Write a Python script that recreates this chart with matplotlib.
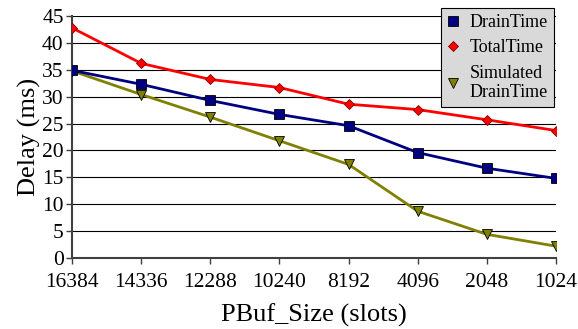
import matplotlib.pyplot as plt
import numpy as np

plt.rcParams['font.family'] = ['Liberation Serif', 'DejaVu Serif']

sizes = ['16384', '14336', '12288', '10240', '8192', '4096', '2048', '1024']
drain = [34.9, 32.3, 29.3, 26.7, 24.6, 19.6, 16.7, 14.8]
total = [42.8, 36.2, 33.2, 31.7, 28.6, 27.6, 25.7, 23.7]
simulated = [34.8, 30.4, 26.2, 21.8, 17.4, 8.7, 4.4, 2.2]

x = np.arange(len(sizes))

fig = plt.figure(figsize=(5.78, 3.29), dpi=100)
ax = fig.add_axes([72/578, 1 - 258/329, (556-72)/578, (258-16)/329])

ax.plot(x, total, color='#ff0000', lw=2, marker='D', ms=5, mfc='#ff0000', mec='#800000', mew=0.6, label='TotalTime', zorder=3)
ax.plot(x, drain, color='#000080', lw=2, marker='s', ms=6.5, mfc='#000080', mec='black', mew=0.6, label='DrainTime', zorder=4)
ax.plot(x, simulated, color='#808000', lw=2, marker='v', ms=6.5, mfc='#808000', mec='black', mew=0.6, label='Simulated\nDrainTime', zorder=3)

ax.set_xlim(0, 7)
ax.set_ylim(0, 45)
ax.set_yticks(range(0, 46, 5))
ax.set_xticks(x)
ax.set_xticklabels(sizes)
ax.yaxis.grid(True, color='black', lw=0.8)
ax.set_axisbelow(True)
for s in ['top', 'right']:
    ax.spines[s].set_visible(False)
ax.spines['left'].set_color('#404040')
ax.spines['left'].set_linewidth(1.5)
ax.spines['bottom'].set_color('#404040')
ax.spines['bottom'].set_linewidth(1.5)
ax.tick_params(labelsize=15.5, length=4, width=1, color='#404040')
ax.tick_params(axis='x', pad=7)
ax.tick_params(axis='y', pad=2)
ax.set_xlabel('PBuf_Size (slots)', fontsize=19, labelpad=8)
ax.set_ylabel('Delay (ms)', fontsize=19, labelpad=1)

h, l = ax.get_legend_handles_labels()
order = [1, 0, 2]
leg = ax.legend([h[i] for i in order], [l[i] for i in order], loc='upper right',
                bbox_to_anchor=(554/578, 1 - 8/329), bbox_transform=fig.transFigure,
                fontsize=13, frameon=True, fancybox=False,
                facecolor='#d9d9d9', edgecolor='black', framealpha=1,
                handlelength=0.6, handletextpad=0.6, borderpad=0.35, labelspacing=0.45,
                borderaxespad=0)
leg.get_frame().set_linewidth(0.8)
for lh in leg.get_lines():
    lh.set_linestyle('none')

fig.savefig('out.png')
